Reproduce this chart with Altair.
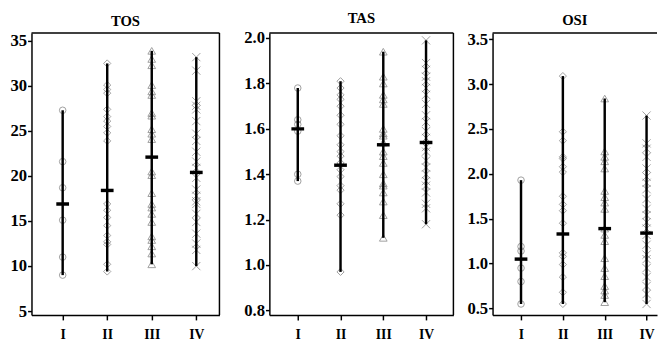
import altair as alt
import pandas as pd

groups = ["I", "II", "III", "IV"]
panels = ["TOS", "TAS", "OSI"]

# ---- TOS values ----
tos_I = [27.3, 21.6, 18.7, 15.1, 11.0, 9.0]
tos_II = [32.5, 30.1, 29.6, 29.2, 27.4, 26.6, 26.1, 25.5, 24.8, 23.9,
          16.9, 16.2, 15.4, 14.5, 13.4, 12.7, 12.4, 10.2, 9.4]
tos_III = [33.9, 33.0, 32.3, 30.1, 29.4, 29.0, 27.0, 26.7, 25.2, 24.7, 24.1,
           20.5, 20.1, 18.1, 16.9, 16.5, 15.8, 14.9, 13.3, 12.9, 12.2, 11.4, 10.2]
tos_IV = [33.2, 31.7, 28.3, 27.8, 27.4, 26.1, 24.7, 23.9, 22.7, 21.6, 20.9,
          19.8, 18.5, 17.8, 17.2, 16.9, 15.8, 14.9, 13.6, 12.5, 11.8, 10.0]
tos_mean = [16.9, 18.4, 22.1, 20.4]

# ---- TAS values ----
tas_I = [1.78, 1.64, 1.62, 1.59, 1.40, 1.37]
tas_II = [1.81, 1.78, 1.75, 1.73, 1.70, 1.66, 1.62, 1.57, 1.53, 1.50, 1.48,
          1.45, 1.42, 1.39, 1.35, 1.33, 1.27, 1.22, 0.97]
tas_III = [1.94, 1.83, 1.80, 1.75, 1.73, 1.71, 1.60, 1.58, 1.57, 1.54, 1.50,
           1.48, 1.45, 1.40, 1.36, 1.35, 1.32, 1.28, 1.22, 1.12]
tas_IV = [1.99, 1.89, 1.86, 1.83, 1.81, 1.78, 1.75, 1.71, 1.66, 1.63, 1.59,
          1.56, 1.52, 1.50, 1.46, 1.43, 1.40, 1.37, 1.35, 1.32, 1.27, 1.25, 1.18]
tas_mean = [1.60, 1.44, 1.53, 1.54]

# ---- OSI values ----
osi_I = [1.93, 1.19, 1.14, 0.95, 0.80, 0.55]
osi_II = [3.09, 2.47, 2.37, 2.19, 2.17, 2.08, 2.02, 1.75, 1.66, 1.59, 1.45,
          1.12, 1.08, 0.99, 0.85, 0.68, 0.55]
osi_III = [2.84, 2.25, 2.19, 2.14, 2.06, 1.81, 1.74, 1.68, 1.61, 1.39, 1.32,
           1.25, 1.06, 0.95, 0.86, 0.75, 0.70, 0.65, 0.57]
osi_IV = [2.65, 2.34, 2.28, 2.19, 2.06, 1.97, 1.90, 1.83, 1.72, 1.61, 1.54,
          1.46, 1.39, 1.32, 1.21, 1.10, 1.05, 0.95, 0.85, 0.75, 0.66, 0.55]
osi_mean = [1.05, 1.33, 1.39, 1.34]

series = {
    "TOS": [tos_I, tos_II, tos_III, tos_IV],
    "TAS": [tas_I, tas_II, tas_III, tas_IV],
    "OSI": [osi_I, osi_II, osi_III, osi_IV],
}
means = {"TOS": tos_mean, "TAS": tas_mean, "OSI": osi_mean}

rows, mrows = [], []
for p in panels:
    for gi, g in enumerate(groups):
        for v in series[p][gi]:
            rows.append({"panel": p, "group": g, "xi": gi + 1, "value": v})
        mrows.append({"panel": p, "group": g, "xi": gi + 1, "value": means[p][gi]})
pts_df = pd.DataFrame(rows)
mean_df = pd.DataFrame(mrows)

shapes = ["circle", "diamond", "triangle-up", "M-1,-1L1,1M-1,1L1,-1"]
sizes = [45, 70, 80, 40]
FONT = "Liberation Serif"
H = 288


def panel(name, ydomain, yvalues, ylabel_expr, xdomain, width, right_border=True):
    xenc = alt.X("xi:Q",
                 scale=alt.Scale(domain=xdomain, nice=False, zero=False),
                 axis=alt.Axis(values=[1, 2, 3, 4], title=None, grid=False,
                               labelExpr="['I','II','III','IV'][datum.value-1]",
                               labelFontSize=14, labelPadding=8, tickSize=5))
    yscale = alt.Scale(domain=ydomain, nice=False, zero=False)
    yaxis = alt.Axis(values=yvalues, title=None, grid=False, labelExpr=ylabel_expr,
                     labelFontSize=17, labelPadding=1, tickSize=4)
    pts = alt.Chart(pts_df).transform_filter(alt.datum.panel == name)
    points = pts.mark_point(filled=False, strokeWidth=1, color="#777777").encode(
        x=xenc,
        y=alt.Y("value:Q", scale=yscale, axis=yaxis),
        shape=alt.Shape("group:N", scale=alt.Scale(domain=groups, range=shapes), legend=None),
        size=alt.Size("group:N", scale=alt.Scale(domain=groups, range=sizes), legend=None),
    )
    line = pts.mark_rule(color="black", strokeWidth=2.5).encode(
        x="xi:Q", y="min(value):Q", y2="max(value):Q")
    bar = alt.Chart(mean_df).transform_filter(alt.datum.panel == name).mark_tick(
        orient="horizontal", color="black", size=13, thickness=3.5, opacity=1).encode(
        x="xi:Q", y="value:Q")
    layers = [points, line, bar]
    frame = pd.DataFrame({"k": [0]})
    top = alt.Chart(frame).mark_rule(color="black", strokeWidth=1.5).encode(
        x=alt.value(0), x2=alt.value(width), y=alt.value(0))
    layers.append(top)
    if right_border:
        right = alt.Chart(frame).mark_rule(color="black", strokeWidth=1.5).encode(
            x=alt.value(width), y=alt.value(0), y2=alt.value(H))
        layers.append(right)
    return alt.layer(*layers).properties(
        width=width, height=H,
        title=alt.TitleParams(name, font=FONT, fontSize=15, fontWeight="bold",
                              offset=0, dy=-3))


fmt1 = "format(datum.value, '.1f')"
p_tos = panel("TOS", [4.57, 35.87], [5, 10, 15, 20, 25, 30, 35], "format(datum.value, 'd')",
              [0.30, 4.52], 192)
p_tas = panel("TAS", [0.78, 2.022], [0.8, 0.9, 1.0, 1.1, 1.2, 1.3, 1.4, 1.5, 1.6, 1.7, 1.8, 1.9, 2.0],
              "(round(datum.value*10) % 2 == 0) ? format(datum.value, '.1f') : ''",
              [0.336, 4.64], 188)
p_osi = panel("OSI", [0.427, 3.569], [0.5, 1.0, 1.5, 2.0, 2.5, 3.0, 3.5], fmt1,
              [0.32, 4.25], 168, right_border=False)

chart = alt.hconcat(alt.hconcat(p_tos, p_tas, spacing=23), p_osi, spacing=12).properties(
    padding={"left": 2, "top": 0, "right": 0, "bottom": 0}
).configure_view(stroke=None).configure_axis(
    labelFont=FONT, labelFontWeight="bold", labelColor="black",
    domainColor="black", domainWidth=1.5, tickColor="black", tickWidth=1.5
).configure_title(anchor="middle", color="black")

chart.save("out.html", embed_options={"renderer": "svg", "actions": False})
